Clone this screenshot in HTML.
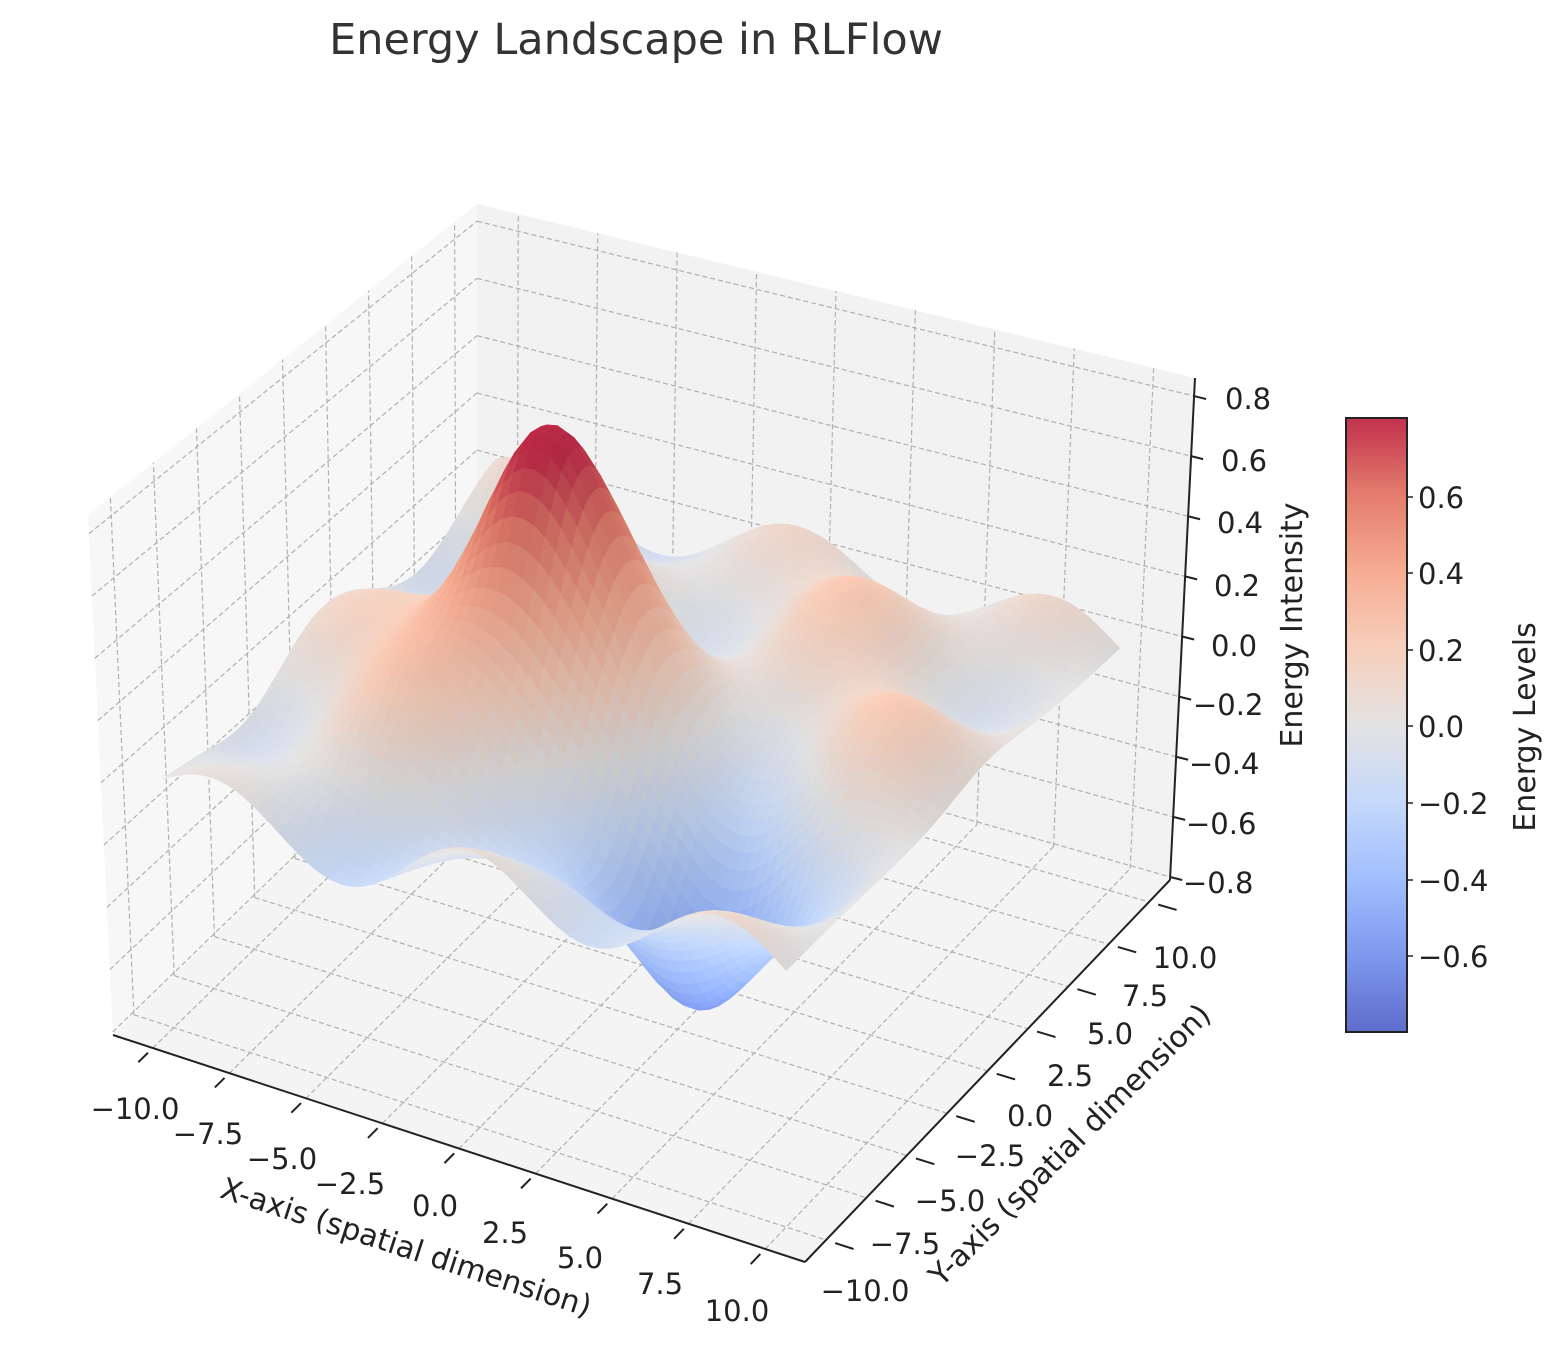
<!DOCTYPE html>
<html><head><meta charset="utf-8"><style>
body{margin:0;background:#fff;}
svg{display:block;font-family:"DejaVu Sans","Liberation Sans",sans-serif;}
</style></head><body>
<svg id="s" width="1561" height="1361" viewBox="0 0 1561 1361" xmlns="http://www.w3.org/2000/svg">
<defs><linearGradient id="cb" x1="0" y1="1" x2="0" y2="0">
<stop offset="0" stop-color="#3b4cc0"/><stop offset="0.125" stop-color="#6282ea"/><stop offset="0.25" stop-color="#8db0fe"/><stop offset="0.375" stop-color="#b8d0f9"/><stop offset="0.5" stop-color="#dddcdc"/><stop offset="0.625" stop-color="#f5c4ac"/><stop offset="0.75" stop-color="#f49a7b"/><stop offset="0.875" stop-color="#de604d"/><stop offset="1" stop-color="#b40426"/></linearGradient></defs>
<g id="g"></g>
<text x="636" y="54" font-size="43" fill="#333" text-anchor="middle">Energy Landscape in RLFlow</text>
<rect x="1346" y="418" width="61" height="614" fill="url(#cb)" opacity="0.82"/>
<rect x="1346" y="418" width="61" height="614" fill="none" stroke="#222" stroke-width="2"/>
<g font-size="29" fill="#222">
<text x="1418" y="508">0.6</text><text x="1418" y="584">0.4</text><text x="1418" y="661">0.2</text><text x="1418" y="737">0.0</text>
<text x="1418" y="814">−0.2</text><text x="1418" y="891">−0.4</text><text x="1418" y="967">−0.6</text>
</g>
<g stroke="#222" stroke-width="1.5"><line x1="1407" y1="497" x2="1413" y2="497"/><line x1="1407" y1="573" x2="1413" y2="573"/><line x1="1407" y1="650" x2="1413" y2="650"/><line x1="1407" y1="726" x2="1413" y2="726"/><line x1="1407" y1="803" x2="1413" y2="803"/><line x1="1407" y1="880" x2="1413" y2="880"/><line x1="1407" y1="956" x2="1413" y2="956"/></g>
<text transform="translate(1535,727) rotate(-90)" font-size="30" fill="#222" text-anchor="middle">Energy Levels</text>
<g font-size="29" fill="#222">
<text x="1225" y="409">0.8</text><text x="1221" y="471">0.6</text><text x="1217" y="533">0.4</text><text x="1214" y="596">0.2</text><text x="1211" y="656">0.0</text>
<text x="1193" y="715">−0.2</text><text x="1189" y="774">−0.4</text><text x="1186" y="834">−0.6</text><text x="1183" y="893">−0.8</text>
</g>
<text transform="translate(1302,625) rotate(-90)" font-size="30" fill="#222" text-anchor="middle">Energy Intensity</text>
<g font-size="29" fill="#222" text-anchor="middle">
<text x="135" y="1119">−10.0</text><text x="208" y="1144">−7.5</text><text x="282" y="1169">−5.0</text><text x="350" y="1194">−2.5</text><text x="435" y="1216">0.0</text><text x="505" y="1243">2.5</text><text x="580" y="1268">5.0</text><text x="660" y="1294">7.5</text><text x="737" y="1321">10.0</text>
<text x="865" y="1301">−10.0</text><text x="905" y="1254">−7.5</text><text x="950" y="1211">−5.0</text><text x="990" y="1166">−2.5</text><text x="1030" y="1126">0.0</text><text x="1070" y="1086">2.5</text><text x="1110" y="1044">5.0</text><text x="1145" y="1006">7.5</text><text x="1185" y="968">10.0</text>
</g>
<text transform="translate(403,1257) rotate(18)" font-size="30" fill="#222" text-anchor="middle">X-axis (spatial dimension)</text>
<text transform="translate(1077,1152) rotate(-45)" font-size="30" fill="#222" text-anchor="middle">Y-axis (spatial dimension)</text>
</svg>
<script>
(function(){
var NS="http://www.w3.org/2000/svg",g=document.getElementById('g');
var L=[113,1035],F=[805,1262],R=[1170,880],B=[477,682];
var hL=[-25,-520],hF=[0,-535],hR=[25,-502],hB=[0,-478];
var X0=-11.3,X1=11.3,Y0=-11.3,Y1=11.3,Z0=-0.81,Z1=0.86;
function bil(a,b,c,d,u,v){return [(a[0]*(1-u)+b[0]*u)*(1-v)+(d[0]*(1-u)+c[0]*u)*v,(a[1]*(1-u)+b[1]*u)*(1-v)+(d[1]*(1-u)+c[1]*u)*v];}
function P(x,y,z){var u=(x-X0)/(X1-X0),v=(y-Y0)/(Y1-Y0),w=(z-Z0)/(Z1-Z0);
var b=bil(L,F,R,B,u,v),h=bil(hL,hF,hR,hB,u,v);return [b[0]+h[0]*w,b[1]+h[1]*w];}
function el(t,a){var e=document.createElementNS(NS,t);for(var k in a)e.setAttribute(k,a[k]);g.appendChild(e);return e;}
function poly(pts,a){a.points=pts.map(function(p){return p[0].toFixed(1)+','+p[1].toFixed(1)}).join(' ');return el('polygon',a);}
function line(p,q,a){a.x1=p[0];a.y1=p[1];a.x2=q[0];a.y2=q[1];return el('line',a);}
poly([P(X0,Y0,Z0),P(X1,Y0,Z0),P(X1,Y1,Z0),P(X0,Y1,Z0)],{fill:'#f4f4f4'});
poly([P(X0,Y0,Z0),P(X0,Y1,Z0),P(X0,Y1,Z1),P(X0,Y0,Z1)],{fill:'#f7f7f7'});
poly([P(X0,Y1,Z0),P(X1,Y1,Z0),P(X1,Y1,Z1),P(X0,Y1,Z1)],{fill:'#f2f2f2'});
var gs={stroke:'#b0b0b0','stroke-width':1.2,'stroke-dasharray':'5,3'};
for(var t=-10;t<=10;t+=2.5){
 line(P(t,Y0,Z0),P(t,Y1,Z0),gs);line(P(t,Y1,Z0),P(t,Y1,Z1),gs);
 line(P(X0,t,Z0),P(X1,t,Z0),gs);line(P(X0,t,Z0),P(X0,t,Z1),gs);}
for(var z=-0.8;z<=0.81;z+=0.2){line(P(X0,Y0,z),P(X0,Y1,z),gs);line(P(X0,Y1,z),P(X1,Y1,z),gs);}
var ax={stroke:'#222','stroke-width':2};
line(P(X0,Y0,Z0),P(X1,Y0,Z0),ax);line(P(X1,Y0,Z0),P(X1,Y1,Z0),ax);line(P(X1,Y1,Z0),P(X1,Y1,Z1),ax);
for(var t=-10;t<=10;t+=2.5){line(P(t,Y0-0.3,Z0),P(t,Y0-0.9,Z0),ax);line(P(X1+0.3,t,Z0),P(X1+0.9,t,Z0),ax);}
for(var z=-0.8;z<=0.81;z+=0.2){var p=P(X1,Y1,z);line(p,[p[0]+12,p[1]+3],ax);}
function f(x,y){var gp=Math.exp(-((x+3)*(x+3)+(y-0.5)*(y-0.5))/8);
 return 0.8*gp
 +0.2*Math.exp(-((x+5)*(x+5)+(y+3)*(y+3))/12)
 -0.68*Math.exp(-((x-4)*(x-4)+(y+4.5)*(y+4.5))/8)
 +0.11*Math.cos(0.75*x+0.4)*Math.cos(0.6*y)*(1-gp)
 +0.15*Math.exp(-((x-3)*(x-3)+(y-7)*(y-7))/8)
 +0.15*Math.exp(-((x-7)*(x-7)+(y-2)*(y-2))/8)
 -0.15*Math.exp(-((x+3)*(x+3)+(y+8)*(y+8))/8)
 -0.08*Math.exp(-((x+10)*(x+10)+(y+10)*(y+10))/6);}
var cm=[[-1,[59,76,192]],[-0.75,[98,130,234]],[-0.5,[141,176,254]],[-0.25,[184,208,249]],[0,[221,220,220]],[0.25,[245,196,172]],[0.5,[244,154,123]],[0.75,[222,96,77]],[1,[180,4,38]]];
function col(z,sh){var t=Math.max(-1,Math.min(1,z/0.79));for(var i=0;i<cm.length-1;i++){if(t<=cm[i+1][0]){var a=(t-cm[i][0])/(cm[i+1][0]-cm[i][0]);var c=cm[i][1].map(function(v,k){return v+(cm[i+1][1][k]-v)*a;});
 c=c.map(function(v){v=v*sh;v=v*0.85+255*0.15;return Math.round(Math.min(255,v));});return 'rgb('+c.join(',')+')';}}}
var N=60,qs=[];
for(var i=0;i<N;i++)for(var j=0;j<N;j++){
 var xa=-10+20*i/N,xb=-10+20*(i+1)/N,ya=-10+20*j/N,yb=-10+20*(j+1)/N;
 var z1=f(xa,ya),z2=f(xb,ya),z3=f(xb,yb),z4=f(xa,yb);
 var zc=(z1+z2+z3+z4)/4;
 var dzx=(z2+z3-z1-z4)/2/(xb-xa)*8,dzy=(z3+z4-z1-z2)/2/(yb-ya)*8;
 var n=[-dzx,-dzy,1],nl=Math.hypot(n[0],n[1],n[2]);
 var ld=[-0.5,0.3,0.8];var dot=(n[0]*ld[0]+n[1]*ld[1]+n[2]*ld[2])/nl/Math.hypot(ld[0],ld[1],ld[2]);
 var sh=0.88+0.15*dot;
 qs.push({d:(xa+xb)/2-(ya+yb)/2,p:[P(xa,ya,z1),P(xb,ya,z2),P(xb,yb,z3),P(xa,yb,z4)],c:col(zc,sh)});}
qs.sort(function(a,b){return a.d-b.d;});
qs.forEach(function(q){poly(q.p,{fill:q.c,stroke:q.c,'stroke-width':0.6});});
})();
</script>
</body></html>
